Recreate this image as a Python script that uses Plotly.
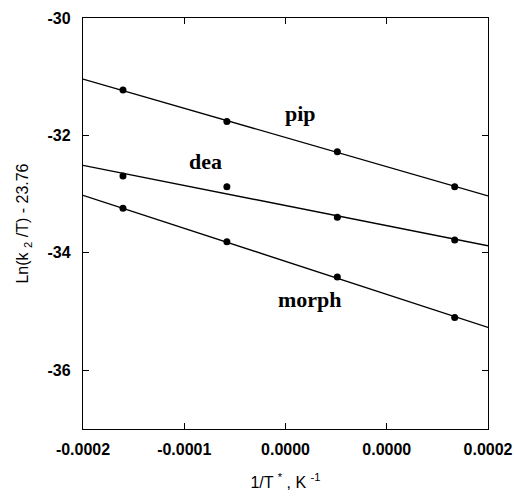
import plotly.graph_objects as go

# data
x_pts = [-0.0001605, -0.0000579, 0.0000512, 0.0001671]
pip = [-31.225, -31.763, -32.276, -32.876]
dea = [-32.69, -32.876, -33.395, -33.78]
morph = [-33.24, -33.81, -34.41, -35.10]

x_fit = [-0.0002, 0.0002]
pip_fit = [-31.04, -33.03]
dea_fit = [-32.51, -33.88]
morph_fit = [-33.02, -35.27]

labels = ["pip", "dea", "morph"]
label_x = [0.0000152, -0.0000786, 0.0000240]
label_y = [-31.63, -32.44, -34.79]

x_tickvals = [-0.0002, -0.0001, 0.0, 0.0001, 0.0002]
x_ticktext = ["-0.0002", "-0.0001", "0.0000", "0.0000", "0.0002"]
y_tickvals = [-30, -32, -34, -36]
y_ticktext = ["-30", "-32", "-34", "-36"]

fig = go.Figure()
for fit in [pip_fit, dea_fit, morph_fit]:
    fig.add_trace(go.Scatter(x=x_fit, y=fit, mode="lines",
                             line=dict(color="black", width=1.4),
                             showlegend=False, hoverinfo="skip"))
for ys in [pip, dea, morph]:
    fig.add_trace(go.Scatter(x=x_pts, y=ys, mode="markers",
                             marker=dict(color="black", size=7),
                             showlegend=False))

for t, lx, ly in zip(labels, label_x, label_y):
    fig.add_annotation(x=lx, y=ly, text="<b>%s</b>" % t, showarrow=False,
                       font=dict(family="Liberation Serif", size=22, color="black"))

tickfont = dict(family="Liberation Sans", size=16, color="black", weight="bold")
axis_common = dict(showline=True, linecolor="black", linewidth=1.4, mirror="ticks",
                   ticks="inside", ticklen=6, tickwidth=1.4, tickcolor="black",
                   showgrid=False, zeroline=False, tickfont=tickfont, automargin=False)

fig.update_xaxes(range=[-0.0002, 0.0002], tickvals=x_tickvals, ticktext=x_ticktext,
                 title=dict(text="1/T <sup>*</sup> , K <sup>-1</sup>",
                            font=dict(family="Liberation Sans", size=16, color="black"),
                            standoff=19),
                 ticklabelstandoff=6, **axis_common)
fig.update_yaxes(range=[-37, -30], tickvals=y_tickvals, ticktext=y_ticktext,
                 title=dict(text="Ln(k <sub>2</sub> /T) - 23.76",
                            font=dict(family="Liberation Sans", size=16, color="black"),
                            standoff=14),
                 ticklabelstandoff=8, **axis_common)

fig.update_layout(width=514, height=496, margin=dict(l=83, r=26, t=18, b=67),
                  plot_bgcolor="white", paper_bgcolor="white")

fig.write_html("out.html")
